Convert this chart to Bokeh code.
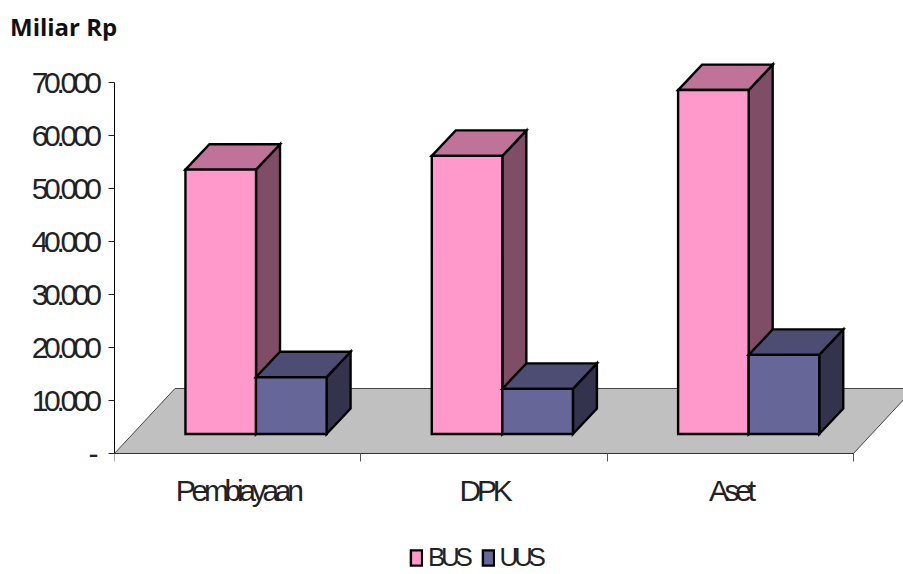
from bokeh.plotting import figure
from bokeh.layouts import column
from bokeh.embed import file_html
from bokeh.resources import INLINE
from bokeh.models import FixedTicker, Div, Legend, LegendItem

categories = ["Pembiayaan", "DPK", "Aset"]
bus = [49800, 52400, 64800]
uus = [10700, 8500, 14900]
value_ticks = [0, 10000, 20000, 30000, 40000, 50000, 60000, 70000]
value_labels = ["-\u00a0\u00a0\u00a0", "10.000", "20.000", "30.000", "40.000", "50.000", "60.000", "70.000"]

FONT = "Liberation Sans"
FS = "30px"
TRACKING = 4.3               # letters are drawn closer together, in px
PX_PER_CATEGORY = 246.3
BAR_START, BAR_W = 0.288, 0.2865
DX, DY = 0.0974, 4800        # depth of a bar, in data units
FLOOR_DX, FLOOR_DY = 0.2456, 12250
BASE = 3680                  # bar base lift on the floor
N = len(categories)

title = Div(text="Miliar Rp", width=903, height=40, margin=0,
            styles={"font-family": "Open Sans", "font-weight": "bold", "font-size": "24px",
                    "color": "#111111", "padding-left": "10px", "padding-top": "13px",
                    "line-height": "28px", "box-sizing": "border-box"})

p = figure(width=903, height=534, output_backend="svg", toolbar_location=None,
           x_range=(0, 3.203), y_range=(-22800, 77820), margin=0,
           min_border_left=114, min_border_right=0, min_border_top=0, min_border_bottom=0)
p.stylesheets = [":host { letter-spacing: -%spx; }" % TRACKING]
p.outline_line_color = None
p.grid.visible = False

yax = p.yaxis[0]
yax.ticker = FixedTicker(ticks=value_ticks)
yax.major_label_overrides = dict(zip(value_ticks, value_labels))
yax.bounds = (0, 70000)
yax.major_label_text_font = FONT
yax.major_label_text_font_size = FS
yax.major_label_text_color = "#222222"
yax.major_label_standoff = -15
yax.major_tick_in = 0
yax.major_tick_out = 6
yax.minor_tick_line_color = None
yax.axis_line_color = "black"
yax.major_tick_line_color = "#222222"

# Labels are centred on their untightened width, so each tick moves by half of what was removed.
label_ticks = [i + 0.5 + len(c) * TRACKING / 2 / PX_PER_CATEGORY for i, c in enumerate(categories)]
xax = p.xaxis[0]
xax.fixed_location = 0
xax.ticker = FixedTicker(ticks=label_ticks, minor_ticks=list(range(N + 1)))
xax.major_label_overrides = dict(zip(label_ticks, categories))
xax.bounds = (0, N)
xax.major_label_text_font = FONT
xax.major_label_text_font_size = FS
xax.major_label_text_color = "#222222"
xax.major_label_standoff = 13
xax.major_tick_line_color = None
xax.major_tick_in = 0
xax.major_tick_out = 0
xax.minor_tick_in = 0
xax.minor_tick_out = 8
xax.minor_tick_line_color = "#555555"
xax.axis_line_color = "#333333"

# floor
p.patch([0, N, N + FLOOR_DX, FLOOR_DX], [0, 0, FLOOR_DY, FLOOR_DY],
        fill_color="#C0C0C0", line_color="#444444", line_width=1)

def prism(values, offset, front, top, side):
    xs_f, ys_f, xs_t, ys_t, xs_s, ys_s = [], [], [], [], [], []
    for i, v in enumerate(values):
        x0 = i + BAR_START + offset * BAR_W
        x1 = x0 + BAR_W
        y0, y1 = BASE, BASE + v
        xs_f.append([x0, x1, x1, x0]); ys_f.append([y0, y0, y1, y1])
        xs_t.append([x0, x1, x1 + DX, x0 + DX]); ys_t.append([y1, y1, y1 + DY, y1 + DY])
        xs_s.append([x1, x1 + DX, x1 + DX, x1]); ys_s.append([y0, y0 + DY, y1 + DY, y1])
    kw = dict(line_color="black", line_width=2.4, line_join="miter")
    p.patches(xs_s, ys_s, fill_color=side, **kw)
    p.patches(xs_t, ys_t, fill_color=top, **kw)
    return p.patches(xs_f, ys_f, fill_color=front, **kw)

r_bus = prism(bus, 0, "#FF99CC", "#BF7399", "#804D66")
r_uus = prism(uus, 1, "#666699", "#4D4D73", "#33334D")

legend = Legend(items=[LegendItem(label="BUS", renderers=[r_bus]),
                       LegendItem(label="UUS", renderers=[r_uus])],
                orientation="horizontal", location=(295, 1),
                border_line_color=None, background_fill_alpha=0,
                label_text_font=FONT, label_text_font_size="26px", label_text_color="#222222",
                glyph_width=14, glyph_height=19, padding=0, margin=0, spacing=12, label_standoff=5)
p.add_layout(legend, "center")

open("out.html", "w").write(file_html(column(title, p, spacing=0), INLINE))
